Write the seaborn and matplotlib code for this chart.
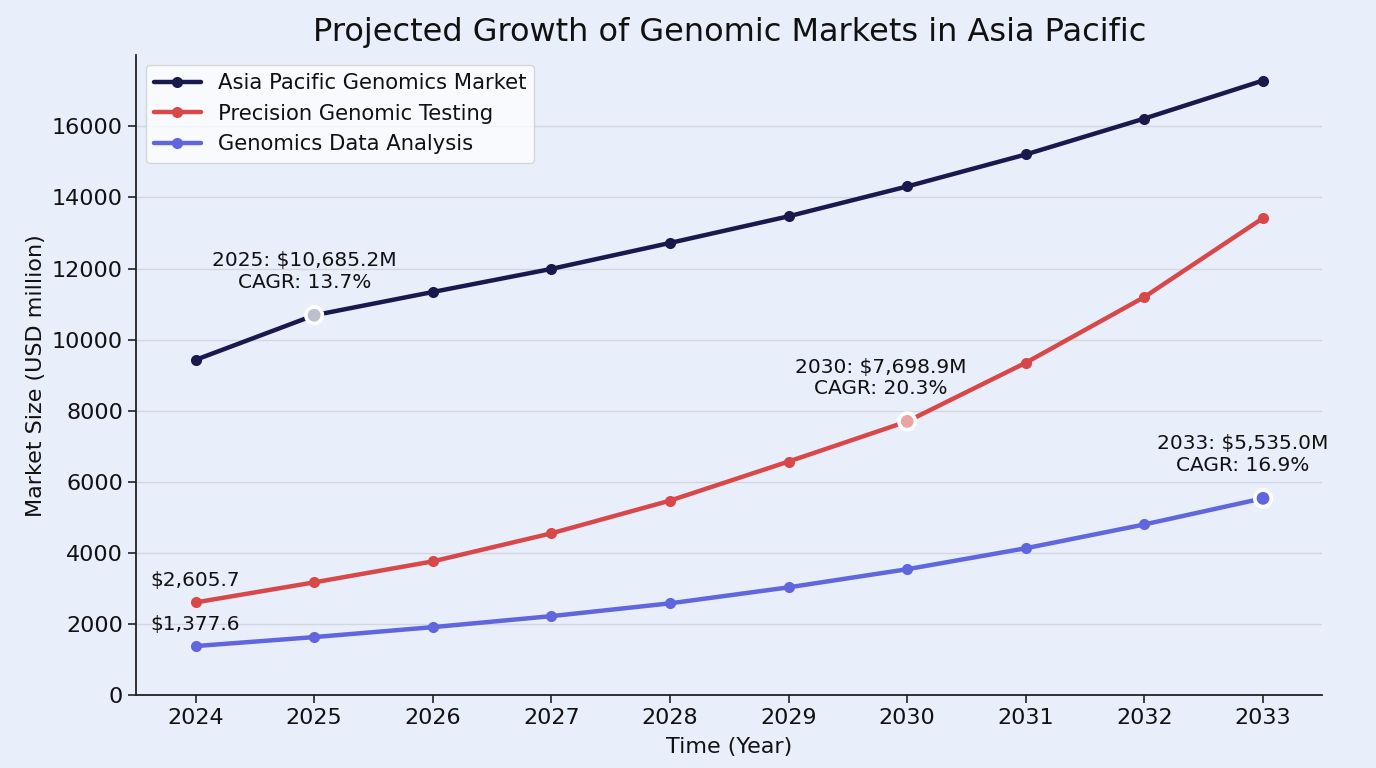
import matplotlib
matplotlib.use("Agg")
import matplotlib.pyplot as plt
import seaborn as sns
import pandas as pd

years = [2024, 2025, 2026, 2027, 2028, 2029, 2030, 2031, 2032, 2033]
asia_pacific = [9430, 10685.2, 11340, 11990, 12720, 13470, 14310, 15210, 16220, 17290]
precision = [2605.7, 3170, 3760, 4550, 5470, 6570, 7698.9, 9350, 11200, 13420]
data_analysis = [1377.6, 1630, 1910, 2220, 2580, 3030, 3540, 4130, 4800, 5535.0]
series_names = ["Asia Pacific Genomics Market", "Precision Genomic Testing", "Genomics Data Analysis"]
colors = ["#181a4e", "#d94848", "#5f66de"]

highlights = [
    (0, 2025, 10685.2, "2025: $10,685.2M\nCAGR: 13.7%"),
    (1, 2030, 7698.9, "2030: $7,698.9M\nCAGR: 20.3%"),
    (2, 2033, 5535.0, "2033: $5,535.0M\nCAGR: 16.9%"),
]
highlight_offsets = [(-7, 17), (-19, 17), (-15, 17)]
highlight_alpha = [0.28, 0.5, 1.0]

bg = "#e9eefb"
sns.set_theme(style="white")
plt.rcParams['font.family'] = ['DejaVu Sans']
plt.rcParams['text.color'] = '#111111'
plt.rcParams['axes.labelcolor'] = '#111111'
plt.rcParams['xtick.color'] = '#111111'
plt.rcParams['ytick.color'] = '#111111'

df = pd.DataFrame({
    "Year": years * 3,
    "Value": asia_pacific + precision + data_analysis,
    "Series": [series_names[0]] * len(years) + [series_names[1]] * len(years) + [series_names[2]] * len(years),
})

fig, ax = plt.subplots(figsize=(13.76, 7.68), dpi=100)
fig.patch.set_facecolor(bg)
ax.set_facecolor(bg)

sns.lineplot(data=df, x="Year", y="Value", hue="Series", palette=colors,
             marker="o", markersize=8, markeredgewidth=0, linewidth=3.2, ax=ax)

for (idx, x, y, label), off, a in zip(highlights, highlight_offsets, highlight_alpha):
    ax.scatter([x], [y], s=210, color="white", zorder=4, edgecolors="none")
    ax.scatter([x], [y], s=85, color=colors[idx], alpha=a, zorder=5, edgecolors="none")
    ax.annotate(label, (x, y), xytext=off, textcoords="offset points",
                ha="center", va="bottom", fontsize=14.5, linespacing=1.15)

ax.annotate("$2,605.7", (2024, precision[0]), xytext=(0, 9), textcoords="offset points",
            ha="center", va="bottom", fontsize=14.5)
ax.annotate("$1,377.6", (2024, data_analysis[0]), xytext=(0, 9), textcoords="offset points",
            ha="center", va="bottom", fontsize=14.5)

ax.set_xlim(2023.5, 2033.5)
ax.set_ylim(0, 18000)
ax.set_xticks(years)
ax.set_xticklabels([str(y) for y in years])
ax.set_yticks(range(0, 18000, 2000))
ax.tick_params(axis="both", labelsize=16, length=6, width=1.2, color="#222222", left=True, bottom=True)
ax.yaxis.grid(True, color="#d3d6de", linewidth=1)
ax.set_axisbelow(True)
for s in ["top", "right"]:
    ax.spines[s].set_visible(False)
for s in ["left", "bottom"]:
    ax.spines[s].set_color("#222222")
    ax.spines[s].set_linewidth(1.3)

ax.set_xlabel("Time (Year)", fontsize=16, labelpad=6)
ax.set_ylabel("Market Size (USD million)", fontsize=16, labelpad=4)
ax.set_title("Projected Growth of Genomic Markets in Asia Pacific", fontsize=23, pad=10)

leg = ax.legend(loc="upper left", fontsize=15.2, frameon=True, handlelength=2.2,
                borderaxespad=0.45, labelspacing=0.5, bbox_to_anchor=(0.0, 1.0))
leg.get_frame().set_facecolor("white")
leg.get_frame().set_alpha(0.75)
leg.get_frame().set_edgecolor("#cccccc")

fig.subplots_adjust(left=0.099, right=0.961, top=0.928, bottom=0.095)
fig.savefig("out.png", dpi=100, facecolor=bg)
